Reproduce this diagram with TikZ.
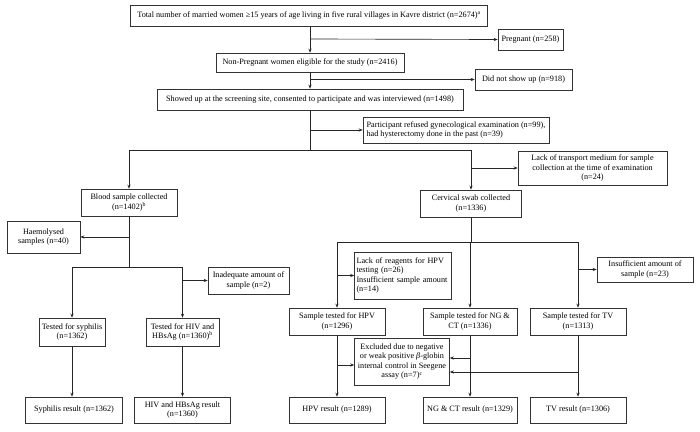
\documentclass[tikz,border=0pt]{standalone}
\usepackage{fontspec}
\setmainfont{Liberation Serif}
\usetikzlibrary{arrows.meta}
\begin{document}
\begin{tikzpicture}[x=1pt,y=-1pt,
  box/.style={draw=black!80,line width=0.65pt,inner sep=1pt,align=center,font=\fontsize{8.2}{9.6}\selectfont},
  lbox/.style={box,align=left},
  line/.style={draw=black!85,line width=0.65pt},
  arr/.style={line,-{Stealth[length=4pt,width=3.2pt]}}]
\useasboundingbox (0,0) rectangle (700,431);
% boxes
\node[box,minimum width=357,minimum height=21] (top) at (309,15.5) {Total number of married women ≥15 years of age living in five rural villages in Kavre district (n=2674)\textsuperscript{a}};
\node[box,minimum width=65,minimum height=21] (preg) at (530.5,39.5) {Pregnant (n=258)};
\node[box,minimum width=188,minimum height=19] (elig) at (310,62.5) {Non-Pregnant women eligible for the study (n=2416)};
\node[box,minimum width=97,minimum height=21] (noshow) at (523.5,79.5) {Did not show up (n=918)};
\node[box,minimum width=306,minimum height=21] (showed) at (310,99.5) {Showed up at the screening site, consented to participate and was interviewed (n=1498)};
\node[lbox,minimum width=186,minimum height=26] (refused) at (456,130) {Participant refused gynecological examination (n=99),\\had hysterectomy done in the past (n=39)};
\node[box,minimum width=96,minimum height=27] (blood) at (129,202.5) {Blood sample collected\\(n=1402)\textsuperscript{b}};
\node[box,minimum width=73,minimum height=32] (haem) at (43.5,237) {Haemolysed\\samples (n=40)};
\node[box,minimum width=101,minimum height=27] (cerv) at (471,203.5) {Cervical swab collected\\(n=1336)};
\node[box,minimum width=149,minimum height=34] (trans) at (592.5,168) {Lack of transport medium for sample\\collection at the time of examination\\(n=24)};
\node[box,minimum width=81,minimum height=27] (inadeq) at (248.5,280.5) {Inadequate amount of\\sample (n=2)};
\node[box,minimum width=66,minimum height=28] (syph) at (72,332) {Tested for syphilis\\(n=1362)};
\node[box,minimum width=73,minimum height=28] (hiv) at (182.5,332) {Tested for HIV and\\HBsAg (n=1360)\textsuperscript{b}};
\node[box,minimum width=97,minimum height=26] (syphres) at (74,410) {Syphilis result (n=1362)};
\node[box,minimum width=96,minimum height=26] (hivres) at (182.5,410) {HIV and HBsAg result\\(n=1360)};
\node[lbox,text width=93,minimum height=47,inner sep=2pt] (reag) at (403,275.5) {Lack of reagents for HPV\\testing (n=26)\\Insufficient sample amount\\(n=14)};
\node[box,minimum width=96,minimum height=25] (insuff) at (645,269.5) {Insufficient amount of\\sample (n=23)};
\node[box,minimum width=96,minimum height=27] (hpv) at (337,321.5) {Sample tested for HPV\\(n=1296)};
\node[box,minimum width=94,minimum height=27] (ng) at (470,321.5) {Sample tested for NG \&\\CT (n=1336)};
\node[box,minimum width=96,minimum height=27] (tv) at (578,321.5) {Sample tested for TV\\(n=1313)};
\node[box,minimum width=95,minimum height=47] (excl) at (402,361.5) {Excluded due to negative\\or weak positive \textit{β}-globin\\internal control in Seegene\\assay (n=7)\textsuperscript{c}};
\node[box,minimum width=96,minimum height=26] (hpvres) at (337,410) {HPV result (n=1289)};
\node[box,minimum width=94,minimum height=26] (ngres) at (470,410) {NG \& CT result (n=1329)};
\node[box,minimum width=96,minimum height=26] (tvres) at (578,410) {TV result (n=1306)};
% junction coordinates
\coordinate (j1) at (310,39);
\coordinate (j2) at (310,79.5);
\coordinate (j3) at (310,130);
\coordinate (sL) at (129,150);
\coordinate (sR) at (471,150);
\coordinate (jt) at (471,168);
\coordinate (jh) at (129,237);
\coordinate (bL) at (72,267);
\coordinate (bR) at (182.5,267);
\coordinate (ji) at (182.5,280.5);
\coordinate (cL) at (337,242);
\coordinate (cM) at (470,242);
\coordinate (cR) at (578,242);
\coordinate (jr) at (337,275.5);
\coordinate (jn) at (578,269.5);
\coordinate (je1) at (337,365);
\coordinate (je2) at (470,358);
\coordinate (je3) at (578,372);
% connectors
\draw[arr] (top.south -| elig.north) -- (elig.north);
\draw[arr] (j1) -- (preg.west);
\draw[arr] (elig.south) -- (showed.north);
\draw[arr] (j2) -- (noshow.west);
\draw[line] (showed.south) -- (showed.south |- sL);
\draw[arr] (j3) -- (j3 -| refused.west);
\draw[line] (sL) -- (sR);
\draw[arr] (sL) -- (blood.north);
\draw[arr] (sR) -- (cerv.north);
\draw[arr] (jt) -- (trans.west);
\draw[line] (blood.south) -- (blood.south |- bL);
\draw[arr] (jh) -- (haem.east);
\draw[line] (bL) -- (bR);
\draw[arr] (bL) -- (syph.north);
\draw[arr] (bR) -- (hiv.north);
\draw[arr] (ji) -- (inadeq.west);
\draw[arr] (syph.south) -- (syph.south |- syphres.north);
\draw[arr] (hiv.south) -- (hiv.south |- hivres.north);
\draw[line] (cerv.south) -- (cerv.south |- cM);
\draw[line] (cL) -- (cR);
\draw[arr] (cL) -- (hpv.north);
\draw[arr] (cM) -- (ng.north);
\draw[arr] (cR) -- (tv.north);
\draw[arr] (jr) -- (jr -| reag.west);
\draw[arr] (jn) -- (insuff.west);
\draw[arr] (hpv.south) -- (hpvres.north);
\draw[arr] (ng.south) -- (ngres.north);
\draw[arr] (tv.south) -- (tvres.north);
\draw[arr] (je1) -- (je1 -| excl.west);
\draw[arr] (je2) -- (je2 -| excl.east);
\draw[arr] (je3) -- (je3 -| excl.east);
\end{tikzpicture}
\end{document}
